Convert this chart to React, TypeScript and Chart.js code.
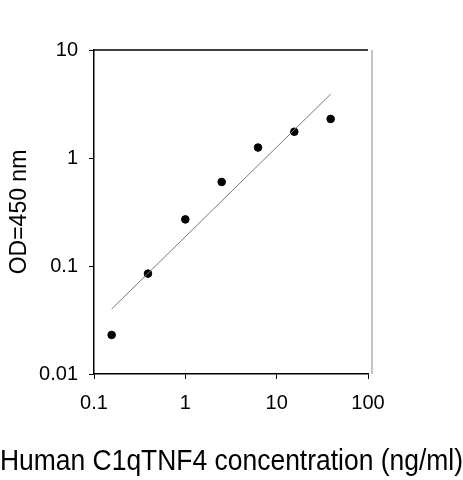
import { Chart, registerables } from "chart.js";
import { useEffect, useRef } from "react";

Chart.register(...registerables);

const FONT = "Arial, 'Liberation Sans', sans-serif";

// measured standards
const concentrations = [0.156, 0.39, 1, 2.5, 6.25, 15.6, 39];
const odValues = [0.023, 0.085, 0.27, 0.6, 1.25, 1.75, 2.3];

// fitted regression line end points
const fitX = [0.156, 39];
const fitY = [0.04, 3.9];

const xTicks = [0.1, 1, 10, 100];
const yTicks = [0.01, 0.1, 1, 10];

// draws top + right edges of the plot box
const frame = {
  id: "frame",
  afterDraw(chart: Chart) {
    const { ctx, chartArea } = chart;
    ctx.save();
    ctx.lineWidth = 1.5;
    ctx.strokeStyle = "#000";
    ctx.beginPath();
    ctx.moveTo(chartArea.left, chartArea.top);
    ctx.lineTo(chartArea.right, chartArea.top);
    ctx.stroke();
    ctx.lineWidth = 1;
    ctx.strokeStyle = "#888";
    ctx.beginPath();
    ctx.moveTo(chartArea.right + 4, chartArea.top);
    ctx.lineTo(chartArea.right + 4, chartArea.bottom);
    ctx.stroke();
    ctx.restore();
  },
};

export default function App() {
  const canvasRef = useRef<HTMLCanvasElement>(null);
  const chartRef = useRef<Chart | null>(null);

  useEffect(() => {
    document.body.style.margin = "0";
    if (!canvasRef.current) return;

    chartRef.current = new Chart(canvasRef.current, {
      type: "scatter",
      data: {
        datasets: [
          {
            label: "fit",
            data: fitX.map((x, i) => ({ x, y: fitY[i] })),
            showLine: true,
            borderColor: "#777",
            borderWidth: 1,
            pointRadius: 0,
          },
          {
            label: "OD",
            data: concentrations.map((x, i) => ({ x, y: odValues[i] })),
            backgroundColor: "#000",
            borderColor: "#000",
            pointRadius: 3.8,
          },
        ],
      },
      options: {
        animation: false,
        responsive: false,
        events: [],
        layout: { padding: { top: 50, right: 0, left: 0, bottom: 0 } },
        plugins: {
          legend: { display: false },
          tooltip: { enabled: false },
          title: {
            display: true,
            position: "bottom",
            text: "Human C1qTNF4 concentration (ng/ml)",
            color: "#000",
            font: { family: FONT, size: 29, weight: "normal" },
            padding: { top: 0, bottom: 0.6 },
          },
        },
        scales: {
          x: {
            type: "logarithmic",
            min: 0.1,
            max: 100,
            afterBuildTicks: (scale: any) => {
              scale.ticks = xTicks.map((value) => ({ value }));
            },
            afterFit: (scale: any) => {
              scale.height = 70.6;
            },
            grid: {
              drawOnChartArea: false,
              drawTicks: true,
              tickLength: 5,
              color: "#000",
            },
            border: { color: "#000", width: 1.5 },
            ticks: {
              color: "#000",
              font: { family: FONT, size: 20 },
              padding: 12,
              maxRotation: 0,
              callback: (v: any) => String(v),
            },
          },
          y: {
            type: "logarithmic",
            min: 0.01,
            max: 10,
            afterBuildTicks: (scale: any) => {
              scale.ticks = yTicks.map((value) => ({ value }));
            },
            afterFit: (scale: any) => {
              scale.width = 94;
            },
            grid: {
              drawOnChartArea: false,
              drawTicks: true,
              tickLength: 5,
              color: "#000",
            },
            border: { color: "#000", width: 1.5 },
            ticks: {
              color: "#000",
              font: { family: FONT, size: 20 },
              padding: 11,
              callback: (v: any) => String(v),
            },
            title: {
              display: true,
              text: "OD=450 nm",
              color: "#000",
              font: { family: FONT, size: 23 },
              padding: { top: 6.2, bottom: 0 },
            },
          },
          // empty spacer on the right to hold the plot box in place
          spacer: {
            type: "linear",
            position: "right",
            grid: { display: false },
            ticks: { display: false },
            border: { display: false },
            afterFit: (scale: any) => {
              scale.width = 95;
            },
          },
        },
      },
      plugins: [frame],
    });

    return () => chartRef.current?.destroy();
  }, []);

  return (
    <div style={{ width: 463, height: 480, background: "#fff" }}>
      <canvas ref={canvasRef} width={463} height={480}></canvas>
    </div>
  );
}
